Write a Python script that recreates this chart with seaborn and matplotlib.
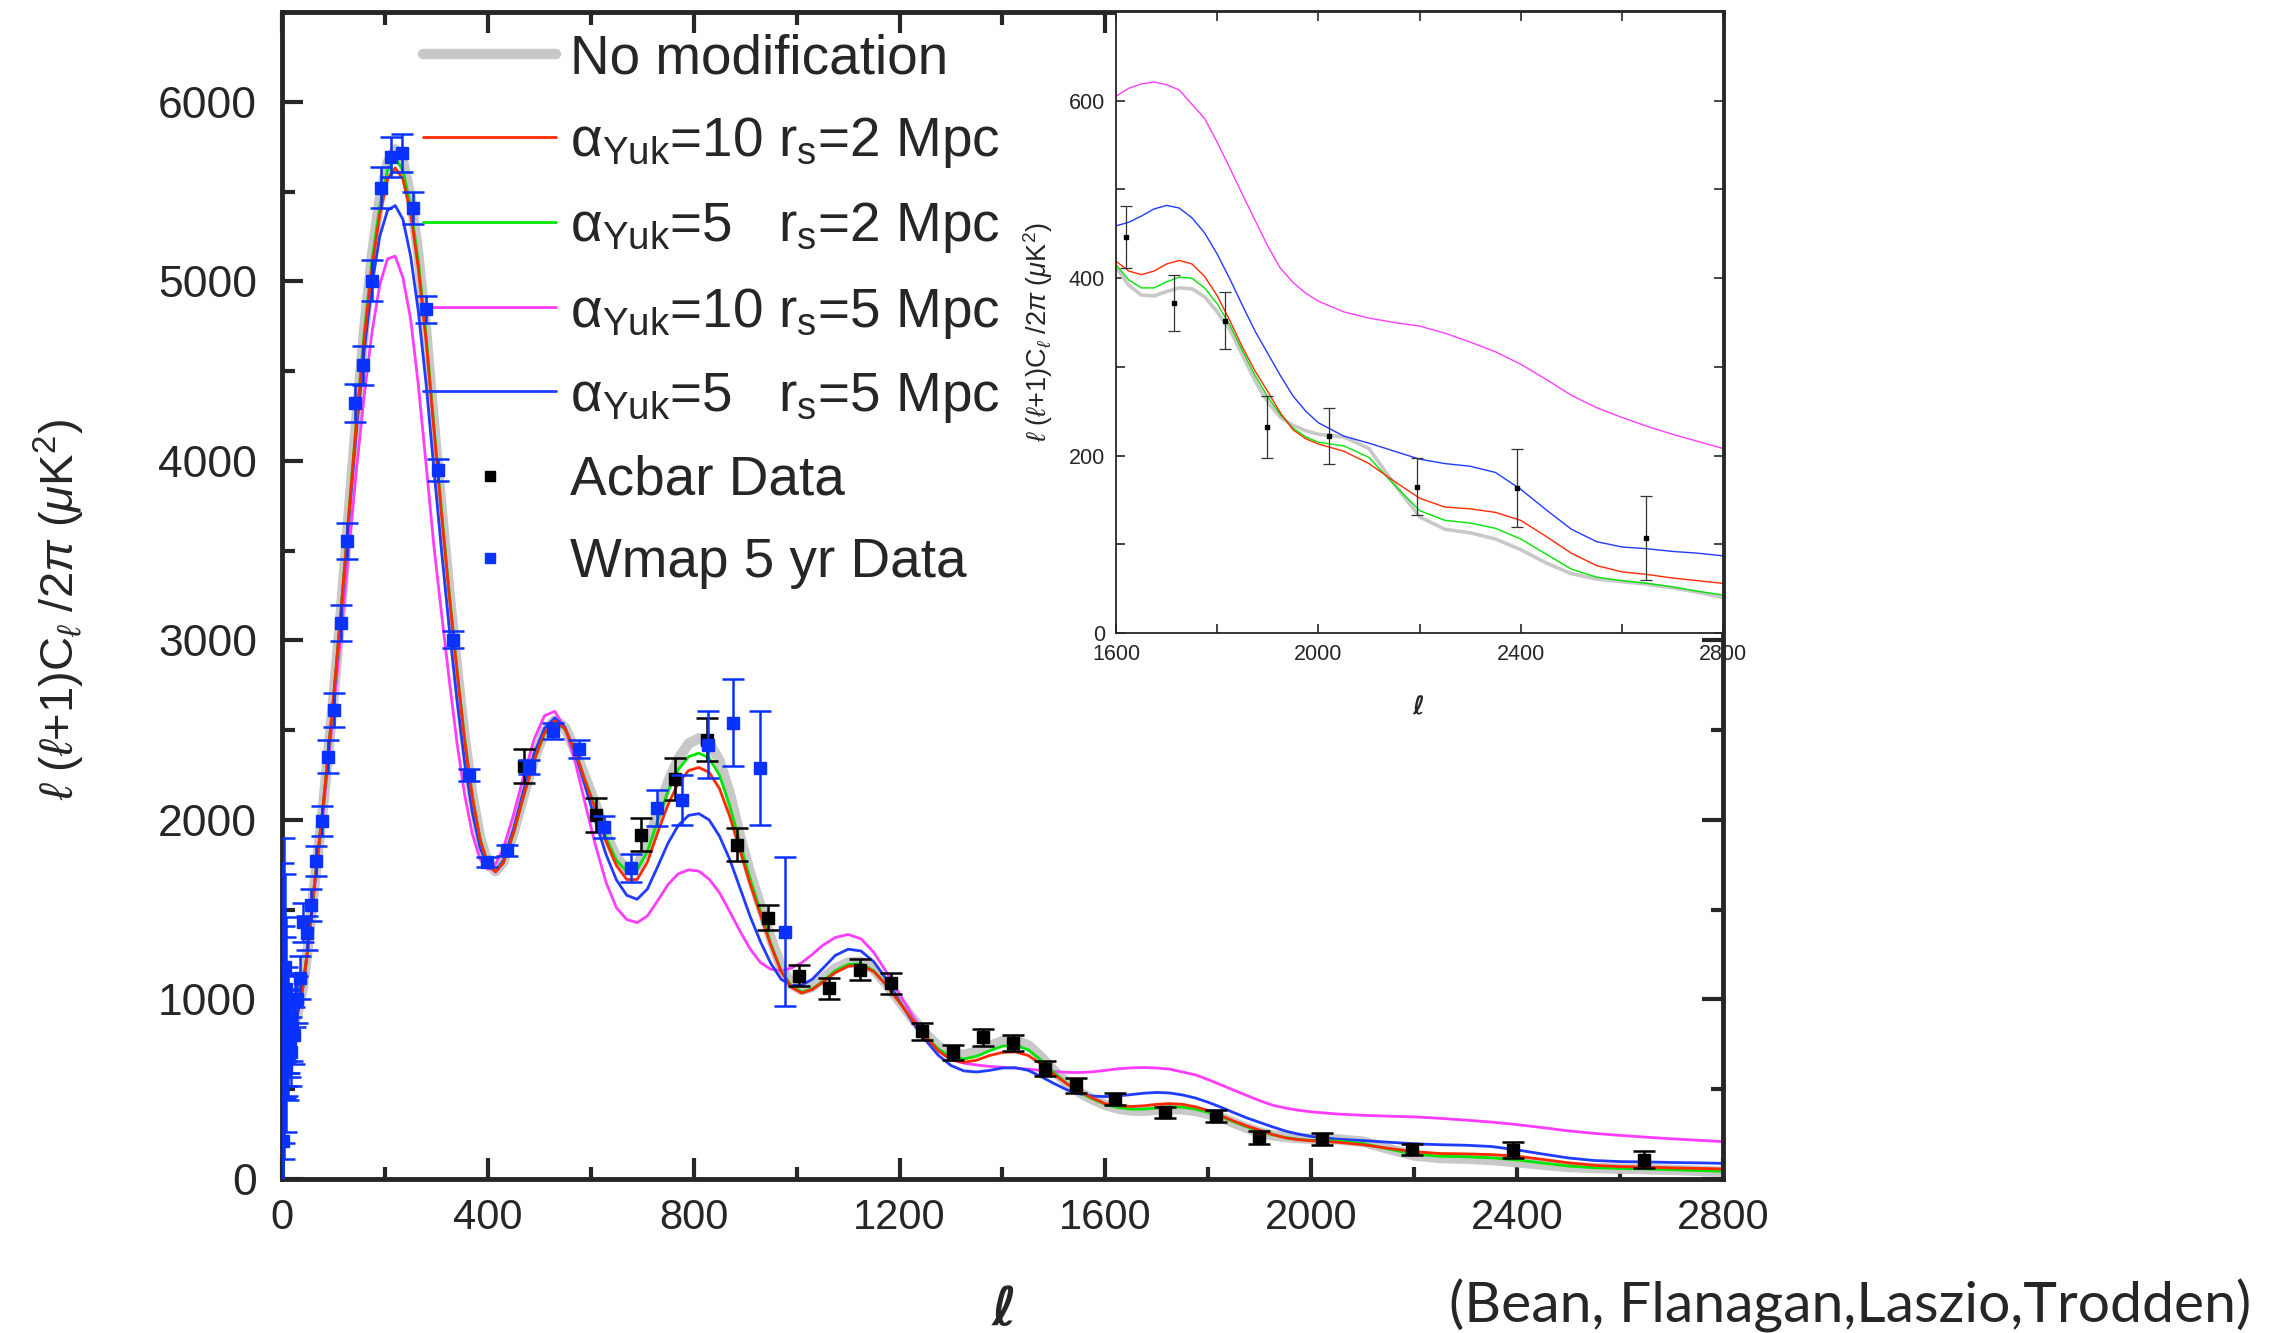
import matplotlib
matplotlib.use("Agg")
import seaborn as sns
from matplotlib import pyplot as plt
from matplotlib.lines import Line2D

# multipole grid shared by all model curves
ELL = [2, 10, 20, 30, 40, 50, 60, 70, 80, 90, 100,
       115, 130, 145, 160, 175, 190, 205, 220, 235, 250, 265, 280, 295, 310, 325, 340, 355, 370, 385, 400, 415, 430,
       450, 470, 490, 510, 530, 550, 570, 590, 610, 630, 650, 670, 690, 710, 730, 750, 770, 790, 810, 830, 850, 870,
       890, 910, 930, 950, 970, 990, 1010,
       1030, 1050, 1075, 1100, 1125, 1150, 1175, 1200, 1225, 1250, 1275, 1300, 1325, 1350, 1375, 1400, 1425, 1450,
       1475, 1500, 1525, 1550, 1575, 1600,
       1625, 1650, 1675, 1700, 1725, 1750, 1775, 1800, 1825, 1850, 1875, 1900, 1925, 1950, 1975, 2000,
       2050, 2100, 2150, 2200, 2250, 2300, 2350, 2400, 2450, 2500, 2550, 2600, 2650, 2700, 2750, 2800]

CL_NOMOD = [960, 840, 830, 920, 1060, 1280, 1560, 1820, 2080, 2380, 2680,
            3180, 3720, 4250, 4740, 5150, 5460, 5660, 5735, 5670, 5470, 5150, 4730, 4220, 3740, 3280, 2850, 2460,
            2140, 1900, 1760, 1715, 1765,
            1930, 2140, 2340, 2490, 2555, 2515, 2385, 2230, 2080, 1920, 1790, 1725, 1740, 1860, 2040, 2210, 2340,
            2425, 2455, 2430, 2330, 2150, 1910, 1700, 1520, 1340, 1180, 1085, 1052,
            1070, 1115, 1172, 1205, 1210, 1168, 1085, 990, 895, 810, 740, 700, 692, 710, 742, 768, 772, 745, 680,
            603, 535, 482, 443, 412,
            392, 381, 380, 385, 389, 388, 379, 362, 342, 313, 284, 260, 243, 234, 228, 224,
            221, 208, 168, 131, 117, 113, 106, 94, 79, 67, 61, 58, 55, 51, 46, 40]

CL_A10_R2 = [960, 840, 830, 920, 1060, 1280, 1560, 1820, 2080, 2380, 2680,
             3175, 3705, 4225, 4690, 5080, 5370, 5570, 5632, 5570, 5380, 5070, 4670, 4180, 3700, 3250, 2830, 2440,
             2125, 1890, 1752, 1710, 1760,
             1928, 2138, 2333, 2484, 2552, 2508, 2380, 2210, 2050, 1880, 1745, 1668, 1668, 1765, 1930, 2085, 2205,
             2275, 2292, 2265, 2175, 2020, 1830, 1640, 1470, 1300, 1155, 1068, 1036,
             1055, 1095, 1150, 1185, 1192, 1155, 1078, 983, 885, 795, 715, 663, 650, 662, 688, 705, 708, 688, 640,
             583, 530, 488, 451, 419,
             408, 404, 408, 416, 420, 416, 402, 380, 352, 322, 295, 272, 248, 229, 219, 213,
             205, 191, 171, 152, 142, 140, 136, 127, 109, 90, 76, 69, 66, 62, 59, 56]

CL_A5_R2 = [960, 840, 830, 920, 1060, 1280, 1560, 1820, 2080, 2380, 2680,
            3180, 3715, 4240, 4720, 5120, 5420, 5620, 5685, 5620, 5420, 5110, 4700, 4200, 3720, 3265, 2840, 2450,
            2130, 1895, 1755, 1712, 1762,
            1925, 2135, 2330, 2480, 2550, 2505, 2378, 2215, 2060, 1900, 1775, 1712, 1722, 1825, 1995, 2160, 2280,
            2352, 2372, 2345, 2250, 2080, 1870, 1670, 1490, 1310, 1160, 1075, 1042,
            1058, 1100, 1160, 1195, 1200, 1160, 1080, 985, 888, 800, 725, 680, 668, 684, 714, 740, 745, 720, 662,
            594, 532, 483, 446, 415,
            398, 389, 389, 396, 401, 400, 389, 371, 347, 318, 290, 266, 246, 231, 221, 215,
            211, 198, 167, 138, 127, 124, 118, 106, 89, 72, 63, 59, 56, 52, 47, 43]

CL_A10_R5 = [960, 840, 830, 915, 1050, 1265, 1535, 1790, 2040, 2320, 2610,
             3050, 3510, 3960, 4370, 4720, 4980, 5125, 5140, 5020, 4790, 4420, 3980, 3530, 3150, 2780, 2430, 2140,
             1920, 1780, 1725, 1755, 1840,
             2030, 2250, 2450, 2580, 2605, 2510, 2320, 2080, 1850, 1650, 1510, 1445, 1428, 1465, 1550, 1640, 1700,
             1722, 1715, 1670, 1595, 1490, 1380, 1280, 1205, 1168, 1160, 1175, 1205,
             1250, 1300, 1345, 1362, 1338, 1262, 1150, 1030, 910, 800, 715, 665, 645, 635, 627, 622, 617, 612, 605,
             599, 594, 593, 597, 605,
             614, 619, 621, 618, 612, 596, 580, 553, 524, 494, 465, 436, 411, 395, 383, 374,
             362, 355, 350, 346, 338, 328, 317, 303, 286, 268, 254, 243, 233, 224, 216, 208]

CL_A5_R5 = [960, 840, 830, 920, 1060, 1280, 1555, 1815, 2075, 2370, 2665,
            3160, 3680, 4180, 4620, 4985, 5250, 5395, 5422, 5345, 5140, 4830, 4430, 3960, 3500, 3070, 2670, 2320,
            2040, 1845, 1740, 1715, 1775,
            1950, 2170, 2370, 2510, 2568, 2515, 2370, 2180, 1985, 1805, 1665, 1580, 1558, 1615, 1740, 1870, 1970,
            2025, 2035, 2000, 1910, 1780, 1620, 1460, 1320, 1200, 1112, 1078, 1080,
            1112, 1170, 1245, 1280, 1270, 1210, 1110, 990, 875, 775, 690, 632, 602, 596, 605, 618, 620, 605, 570,
            532, 497, 474, 462, 459,
            463, 470, 478, 482, 479, 468, 451, 427, 399, 369, 340, 315, 290, 267, 250, 237,
            222, 214, 205, 196, 191, 188, 181, 162, 139, 117, 103, 97, 95, 92, 90, 87]

WMAP_L = [2, 3, 4, 5, 6, 7, 8, 9, 10, 11, 12, 14, 16, 18, 20, 23, 26, 30, 35, 41, 49,
          57, 67, 78, 89, 101, 114, 127, 142, 157, 174, 193, 212, 233, 255, 280, 304, 333, 364, 399,
          438, 480, 527, 577, 626, 678, 728, 777, 827, 877, 928, 977]
WMAP_V = [210, 1050, 760, 1180, 900, 1060, 620, 850, 760, 870, 700, 820, 780, 710, 830, 800, 990, 1000, 1120, 1430,
          1370, 1525, 1772, 1994, 2353, 2614, 3095, 3554, 4322, 4532, 5004, 5522, 5693, 5713, 5407, 4843, 3948,
          3004, 2250, 1765, 1830, 2296, 2494, 2394, 1961, 1731, 2067, 2111, 2418, 2542, 2291, 1378]
WMAP_E = [1550, 850, 650, 520, 450, 400, 360, 330, 300, 280, 260, 230, 210, 190, 175, 160, 145, 130, 120, 110, 95,
          90, 85, 85, 92, 95, 100, 100, 106, 110, 114, 115, 111, 105, 90, 75, 61, 47, 36, 30,
          31, 38, 44, 51, 60, 77, 100, 139, 186, 242, 317, 414]

ACBAR_L = [471, 610, 697, 764, 825, 885, 944, 1005, 1063, 1123, 1184, 1243, 1304, 1362, 1421, 1483, 1542,
           1619, 1715, 1815, 1899, 2021, 2195, 2392, 2647]
ACBAR_V = [2300, 2026, 1917, 2228, 2446, 1862, 1455, 1133, 1062, 1166, 1090, 822, 706, 790, 757, 615, 522,
           446, 372, 352, 232, 222, 165, 163, 107]
ACBAR_E = [93, 95, 92, 116, 119, 92, 69, 58, 58, 60, 58, 47, 42, 48, 46, 44, 42,
           35, 31, 32, 35, 32, 32, 44, 47]

LABELS = ["No modification",
          "\u03b1$_{\\rm Yuk}$=10 r$_{\\rm s}$=2 Mpc",
          "\u03b1$_{\\rm Yuk}$=5   r$_{\\rm s}$=2 Mpc",
          "\u03b1$_{\\rm Yuk}$=10 r$_{\\rm s}$=5 Mpc",
          "\u03b1$_{\\rm Yuk}$=5   r$_{\\rm s}$=5 Mpc",
          "Acbar Data",
          "Wmap 5 yr Data"]

GRAY = "#c8c8c8"
RED = "#ff2a00"
GREEN = "#00e600"
MAGENTA = "#ff3cff"
BLUE = "#1f3cff"
WMAP_BLUE = "#0a32ff"

YLABEL = r"$\ell$ ($\ell$+1)C$_{\ell}$ /2$\pi$ ($\mu$K$^2$)"

sns.set_style("ticks")
plt.rcParams["font.family"] = ["Liberation Sans", "DejaVu Sans"]
plt.rcParams["mathtext.fontset"] = "custom"
plt.rcParams["mathtext.rm"] = "Liberation Sans"
plt.rcParams["mathtext.it"] = "Liberation Sans:italic"
plt.rcParams["mathtext.bf"] = "Liberation Sans:bold"

curves = [(CL_NOMOD, GRAY, 7.5, 2.6),
          (CL_A10_R5, MAGENTA, 2.0, 1.0),
          (CL_A5_R5, BLUE, 2.0, 1.0),
          (CL_A5_R2, GREEN, 2.0, 1.0),
          (CL_A10_R2, RED, 2.0, 1.0)]

fig = plt.figure(figsize=(22.88, 13.33), dpi=100)
ax = fig.add_axes([0.12325, 0.11553, 0.6298, 0.87547])

for vals, color, lw, _ in curves:
    sns.lineplot(x=ELL, y=vals, color=color, linewidth=lw, ax=ax, solid_capstyle="round")

ax.errorbar(ACBAR_L, ACBAR_V, yerr=ACBAR_E, fmt="s", color="black", ms=8, elinewidth=1.8,
            capsize=8, capthick=1.8, zorder=4)
ax.errorbar(WMAP_L, WMAP_V, yerr=WMAP_E, fmt="s", color=WMAP_BLUE, ms=8, elinewidth=1.8,
            capsize=8, capthick=1.8, zorder=5)

ax.set_xlim(0, 2800)
ax.set_ylim(0, 6500)
ax.set_xticks(range(0, 2801, 400))
ax.set_xticks(range(200, 2800, 400), minor=True)
ax.set_yticks(range(0, 6001, 1000))
ax.set_yticks(range(500, 6500, 1000), minor=True)
ax.tick_params(which="both", direction="in", top=True, right=True, width=3)
ax.tick_params(which="major", length=15)
ax.tick_params(which="minor", length=9)
ax.tick_params(axis="y", labelsize=32, pad=18)
ax.tick_params(axis="x", labelsize=30, pad=14)
for sp in ax.spines.values():
    sp.set_linewidth(3.5)

ax.set_ylabel(YLABEL, fontsize=34)
ax.yaxis.set_label_coords(-0.135, 0.488)
ax.set_xlabel("\u2113", fontsize=38, fontweight="bold", fontstyle="italic", family="DejaVu Sans")
ax.xaxis.set_label_coords(0.501, -0.09)

handles = [Line2D([], [], color=GRAY, lw=7.5, solid_capstyle="round"),
           Line2D([], [], color=RED, lw=2),
           Line2D([], [], color=GREEN, lw=2),
           Line2D([], [], color=MAGENTA, lw=2),
           Line2D([], [], color=BLUE, lw=2),
           Line2D([], [], ls="none", marker="s", color="black", ms=7),
           Line2D([], [], ls="none", marker="s", color=WMAP_BLUE, ms=7)]
ax.legend(handles, LABELS, loc="upper left", bbox_to_anchor=(0.098, 0.982), frameon=False,
          fontsize=39.5, handlelength=2.42, handletextpad=0.26, labelspacing=0.55, borderpad=0,
          borderaxespad=0, numpoints=1)

# inset: high-l tail
axin = fig.add_axes([0.4878, 0.5251, 0.2653, 0.4659])
axin.set_facecolor("white")
for vals, color, _, lw in curves:
    sns.lineplot(x=ELL, y=vals, color=color, linewidth=lw, ax=axin)
axin.errorbar(ACBAR_L, ACBAR_V, yerr=ACBAR_E, fmt="s", color="black", ecolor="#333333", ms=3.5,
              elinewidth=0.9, capsize=4, capthick=0.9, zorder=4)
axin.set_xlim(1600, 2800)
axin.set_ylim(0, 700)
axin.set_xticks([1600, 2000, 2400, 2800])
axin.set_xticks([1800, 2200, 2600], minor=True)
axin.set_yticks([0, 200, 400, 600])
axin.set_yticks([100, 300, 500], minor=True)
axin.tick_params(which="both", direction="in", top=True, right=True, width=1.2, length=6.5,
                 labelsize=15.5, pad=8)
for sp in axin.spines.values():
    sp.set_linewidth(1.3)
axin.set_ylabel(YLABEL, fontsize=19.5)
axin.yaxis.set_label_coords(-0.1, 0.485)
axin.set_xlabel("\u2113", fontsize=18, fontweight="bold", fontstyle="italic", family="DejaVu Sans")
axin.xaxis.set_label_coords(0.4975, -0.1)

fig.text(0.9838, 0.0203, "(Bean, Flanagan,Laszio,Trodden)", ha="right", va="center",
         fontsize=41, family="Lato")

fig.savefig("out.png", dpi=100)
